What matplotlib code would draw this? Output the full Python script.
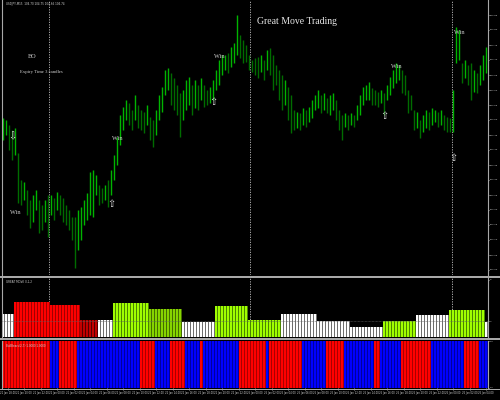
import matplotlib
matplotlib.use('Agg')
import matplotlib.pyplot as plt
from matplotlib.lines import Line2D
import numpy as np

# USDJPY M15, high / low of every bar
high = [104.507, 104.500, 104.483, 104.467, 104.473, 104.390, 104.300, 104.293, 104.267, 104.233,
        104.250, 104.267, 104.233, 104.217, 104.233, 104.250, 104.250, 104.240, 104.260, 104.250,
        104.240, 104.217, 104.200, 104.177, 104.177, 104.200, 104.210, 104.233, 104.257, 104.327,
        104.333, 104.317, 104.283, 104.273, 104.283, 104.300, 104.333, 104.383, 104.443, 104.517,
        104.543, 104.567, 104.557, 104.533, 104.583, 104.550, 104.533, 104.527, 104.550, 104.510,
        104.500, 104.533, 104.583, 104.610, 104.667, 104.673, 104.657, 104.640, 104.617, 104.590,
        104.600, 104.633, 104.643, 104.617, 104.633, 104.617, 104.640, 104.617, 104.600, 104.610,
        104.633, 104.667, 104.700, 104.717, 104.717, 104.723, 104.743, 104.757, 104.850, 104.783,
        104.767, 104.750, 104.717, 104.700, 104.707, 104.710, 104.717, 104.700, 104.733, 104.740,
        104.717, 104.683, 104.667, 104.650, 104.633, 104.610, 104.583, 104.533, 104.527, 104.523,
        104.540, 104.533, 104.543, 104.567, 104.583, 104.600, 104.583, 104.590, 104.573, 104.583,
        104.590, 104.567, 104.533, 104.517, 104.523, 104.517, 104.523, 104.517, 104.550, 104.583,
        104.610, 104.617, 104.627, 104.607, 104.600, 104.593, 104.600, 104.590, 104.617, 104.643,
        104.667, 104.690, 104.683, 104.667, 104.650, 104.600, 104.583, 104.533, 104.527, 104.500,
        104.517, 104.533, 104.527, 104.540, 104.533, 104.527, 104.533, 104.517, 104.510, 104.507,
        104.600, 104.810, 104.800, 104.690, 104.700, 104.683, 104.690, 104.667, 104.657, 104.683,
        104.717, 104.743]
low = [104.433, 104.450, 104.400, 104.367, 104.383, 104.223, 104.217, 104.233, 104.183, 104.140,
       104.160, 104.200, 104.123, 104.133, 104.160, 104.110, 104.183, 104.167, 104.200, 104.183,
       104.160, 104.150, 104.133, 104.100, 104.007, 104.067, 104.100, 104.150, 104.167, 104.183,
       104.177, 104.250, 104.217, 104.223, 104.233, 104.210, 104.250, 104.300, 104.350, 104.417,
       104.467, 104.500, 104.483, 104.467, 104.500, 104.473, 104.467, 104.457, 104.483, 104.433,
       104.410, 104.450, 104.500, 104.527, 104.583, 104.600, 104.550, 104.533, 104.517, 104.443,
       104.500, 104.533, 104.550, 104.517, 104.540, 104.533, 104.567, 104.543, 104.550, 104.557,
       104.567, 104.600, 104.617, 104.650, 104.667, 104.657, 104.677, 104.690, 104.717, 104.707,
       104.690, 104.693, 104.667, 104.660, 104.650, 104.640, 104.660, 104.633, 104.667, 104.650,
       104.600, 104.617, 104.567, 104.533, 104.550, 104.500, 104.457, 104.467, 104.473, 104.467,
       104.483, 104.477, 104.493, 104.507, 104.533, 104.540, 104.523, 104.533, 104.523, 104.517,
       104.533, 104.500, 104.467, 104.433, 104.477, 104.467, 104.483, 104.477, 104.500, 104.517,
       104.550, 104.567, 104.567, 104.550, 104.550, 104.543, 104.557, 104.517, 104.567, 104.583,
       104.607, 104.623, 104.633, 104.590, 104.583, 104.523, 104.533, 104.467, 104.473, 104.440,
       104.460, 104.473, 104.467, 104.483, 104.493, 104.477, 104.483, 104.467, 104.460, 104.460,
       104.460, 104.690, 104.700, 104.623, 104.640, 104.617, 104.567, 104.593, 104.590, 104.617,
       104.633, 104.657]

price_ticks = [104.00, 104.05, 104.10, 104.15, 104.20, 104.25, 104.30, 104.35, 104.40,
               104.45, 104.50, 104.55, 104.60, 104.65, 104.70, 104.75, 104.80, 104.85]

# signals
win_bar = [4, 38, 72, 131, 152]
win_price = [104.190, 104.440, 104.713, 104.680, 104.790]
up_bar = [36, 70, 127, 150]
up_price = [104.220, 104.560, 104.513, 104.373]
dn_bar = [3]
dn_price = [104.447]

day_sep = [15.3, 82.3, 149.7]

# GREAT MOVE histogram (runs of bars)
gm_runs = [4, 12, 10, 6, 5, 12, 11, 11, 11, 11, 12, 11, 11, 11, 11, 12, 1]
gm_level = [3.83, 5.38, 5.02, 3.12, 3.12, 5.26, 4.43, 2.88, 4.90, 3.12, 3.83, 3.00, 2.29,
            3.00, 3.71, 4.31, 2.88]
gm_color = ['white', 'red', 'red', 'darkred', 'white', 'lime', 'green', 'white', 'lime',
            'lime', 'white', 'white', 'white', 'lime', 'white', 'lime', 'white']

# BullBears (runs, starting red, then alternating)
bb_runs = [16, 3, 6, 21, 5, 5, 5, 5, 1, 12, 9, 1, 11, 8, 6, 10, 2, 7, 10, 11, 5, 3]

date_labels = ['21 Jan 18:00', '21 Jan 20:00', '21 Jan 22:00', '22 Jan 00:00', '22 Jan 02:00',
               '22 Jan 04:00', '22 Jan 06:00', '22 Jan 08:00', '22 Jan 10:00', '22 Jan 12:00',
               '22 Jan 14:00', '22 Jan 16:00', '22 Jan 18:00', '22 Jan 20:00', '22 Jan 22:00',
               '25 Jan 00:00', '25 Jan 02:00', '25 Jan 04:00', '25 Jan 06:00', '25 Jan 08:00',
               '25 Jan 10:00', '25 Jan 12:00', '25 Jan 14:00', '25 Jan 16:00', '25 Jan 18:00',
               '25 Jan 20:00', '25 Jan 22:00', '26 Jan 00:00', '26 Jan 02:00', '26 Jan 04:00']

shades = {'white': ('#ffffff', '#6e6e6e'), 'red': ('#ff0000', '#a00000'),
          'darkred': ('#c00000', '#500000'), 'lime': ('#a0ff00', '#4a8400'),
          'green': ('#86d400', '#436c00')}

GRAY = '#a8a8a8'
TXT = '#d0d0d0'

n = len(high)
idx = np.arange(n)
hi = np.array(high)
lo = np.array(low)
mid = (hi + lo) / 2
up = np.r_[True, mid[1:] >= mid[:-1]]
cols = np.where(up, '#00b400', '#006c00')

fig = plt.figure(figsize=(5, 4), dpi=100, facecolor='black')


def panel(top, bottom):
    a = fig.add_axes([2/500, 1 - bottom/400, 486/500, (bottom - top)/400], facecolor='black')
    a.set_xlim(-1/3, 485/3)
    for s in ['top', 'bottom']:
        a.spines[s].set_visible(False)
    for s in ['left', 'right']:
        a.spines[s].set_color(GRAY)
        a.spines[s].set_linewidth(0.8)
    a.yaxis.tick_right()
    a.tick_params(axis='y', labelsize=1.7, colors=TXT, length=1.0, width=0.5, pad=0.6)
    a.tick_params(axis='x', bottom=False, labelbottom=False)
    for d in day_sep:
        a.axvline(d, color='#c0c0c0', lw=0.6, ls=(0, (1.5, 1.5)), zorder=0)
    return a


# main chart
ax = panel(0, 275)
ax.vlines(idx, lo, hi, colors=cols, lw=1.0, zorder=2)
ax.set_ylim(104.9 - 275/300, 104.9)
ax.set_yticks(price_ticks)
ax.set_yticklabels(['%.2f' % p for p in price_ticks])

for b, p in zip(win_bar, win_price):
    ax.text(b, p, 'Win', color=TXT, fontsize=4.5, family='Liberation Serif',
            ha='center', va='center', zorder=3)
for b, p in zip(up_bar, up_price):
    ax.text(b, p, '\u21e7', color='#e0e0e0', fontsize=7, ha='center', va='center', zorder=3)
for b, p in zip(dn_bar, dn_price):
    ax.text(b, p, '\u21e9', color='#e0e0e0', fontsize=7, ha='center', va='center', zorder=3)

ax.text(0.607, 0.92, 'Great Move Trading', transform=ax.transAxes, color='#e8e8e8',
        fontsize=7, family='Liberation Serif', ha='center', va='center')
ax.text(0.062, 0.796, 'BO', transform=ax.transAxes, color=TXT, fontsize=4.5,
        family='Liberation Serif', ha='center', va='center')
ax.text(0.080, 0.738, 'Expiry Time 3 candles', transform=ax.transAxes, color=TXT,
        fontsize=3.4, family='Liberation Serif', ha='center', va='center')
ax.text(0.008, 0.985, 'USDJPY,M15  104.70 104.75 104.66 104.74', transform=ax.transAxes,
        color=TXT, fontsize=2.0, ha='left', va='center')

# GREAT MOVE indicator
ax2 = panel(278, 337)
gm_val = np.repeat(gm_level, gm_runs)
gm_c = np.repeat(gm_color, gm_runs)
ax2.bar(idx, gm_val, width=1.0, color=[shades[c][1] for c in gm_c], zorder=1, antialiased=False)
ax2.bar(idx, gm_val, width=0.5, color=[shades[c][0] for c in gm_c], zorder=2, antialiased=False)
ax2.axhline(3.0, color='#606060', lw=0.5, ls=(0, (1, 1)), zorder=3)
ax2.set_ylim(1.1, 8.24)
ax2.set_yticks([3, 8])
ax2.text(0.008, 0.93, 'GREAT MOVE 0,1,2', transform=ax2.transAxes, color=TXT,
         fontsize=2.0, ha='left', va='center')

# BullBears indicator
ax3 = panel(341, 388)
bb_c = np.repeat([['red', 'blue'][k % 2] for k in range(len(bb_runs))], bb_runs)
bright = {'red': '#ff0000', 'blue': '#0000ff'}
dark = {'red': '#a80000', 'blue': '#00009c'}
ax3.bar(idx, 1, width=1.0, color=[dark[c] for c in bb_c], zorder=1, antialiased=False)
ax3.bar(idx, 1, width=0.5, color=[bright[c] for c in bb_c], zorder=2, antialiased=False)
ax3.set_ylim(0, 1)
ax3.set_yticks([0, 1])
ax3.set_yticklabels(['0.0', '1.0'])
ax3.text(0.008, 0.9, 'BullBears(2,7) 1.0000 1.0000', transform=ax3.transAxes, color=TXT,
         fontsize=2.0, ha='left', va='center', zorder=4)
ax3.set_xticks(np.arange(len(date_labels)) * 5.5 + 1.5)
ax3.set_xticklabels(date_labels)
ax3.tick_params(axis='x', bottom=True, labelbottom=True, labelsize=1.8, colors=TXT,
                length=1.2, width=0.5, pad=0.8)

# separators between the panels
for y, w in [(276.5, 2.0), (339, 2.0), (389, 1.0)]:
    fig.add_artist(Line2D([0, 1], [1 - y/400, 1 - y/400], transform=fig.transFigure,
                          color=GRAY, lw=w * 0.72))

fig.savefig('out.png', dpi=100, facecolor='black')
